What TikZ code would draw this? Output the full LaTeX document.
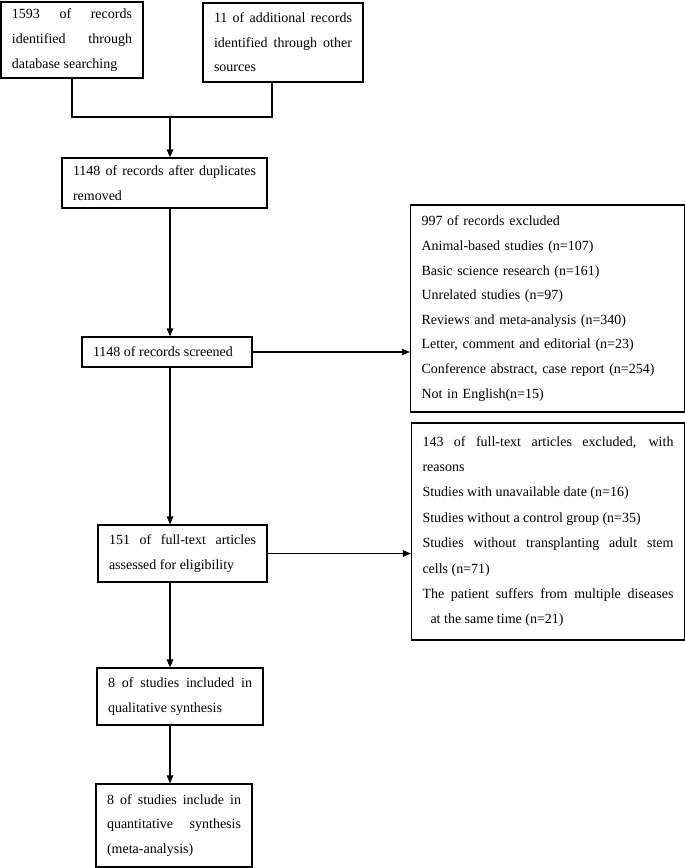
\documentclass[tikz,border=0pt]{standalone}
\usepackage{fontspec}
\setmainfont{Liberation Serif}
\usetikzlibrary{arrows.meta}

\begin{document}
\begin{tikzpicture}[x=1pt,y=-1pt,->,>={Triangle[length=8pt,width=6.5pt]},line width=1.2pt,
	box/.style={draw,inner xsep=11pt,inner ysep=0pt,align=justify,font=\fontsize{14}{24.6}\selectfont}]
		\useasboundingbox (0,0) rectangle (685,868);
		\node[box,text width=120pt,minimum height=76pt] (ident) at (72,40) {1593 of records\linebreak identified through\linebreak database searching};
		\node[box,text width=138pt,minimum height=79pt] (other) [node distance=211pt, right of=ident, yshift=-2.5pt] {11 of additional records\linebreak identified through other\linebreak sources};
		\node[box,text width=183pt,minimum height=50pt] (dup) [node distance=143pt, below of=ident, xshift=92.5pt] {1148 of records after duplicates\linebreak removed};
		\node[box,text width=148pt,minimum height=30pt] (screened) [node distance=169pt, below of=dup, xshift=2.5pt] {1148 of records screened};
		\node[box,text width=252pt,minimum height=207pt,align=left] (excl1) [node distance=380.5pt, right of=screened, yshift=43.5pt] {997 of records excluded\\ Animal-based studies (n=107)\\ Basic science research (n=161)\\ Unrelated studies (n=97)\\ Reviews and meta-analysis (n=340)\\ Letter, comment and editorial (n=23)\\ Conference abstract, case report (n=254)\\ Not in English(n=15)};
		\node[box,text width=147pt,minimum height=57pt] (full) [node distance=201.5pt, below of=screened, xshift=15.5pt] {151 of full-text articles\linebreak assessed for eligibility};
		\node[box,text width=251pt,minimum height=217pt,font=\fontsize{14}{25.4}\selectfont] (excl2) [node distance=365.5pt, right of=full, yshift=22pt] {143 of full-text articles excluded, with\linebreak reasons\\ Studies with unavailable date (n=16)\\ Studies without a control group (n=35)\\ Studies without transplanting adult stem\linebreak cells (n=71)\\ The patient suffers from multiple diseases\linebreak\hspace*{8pt}at the same time (n=21)};
		\node[box,text width=144pt,minimum height=57pt] (qual) [node distance=143pt, below of=full, xshift=-2.5pt] {8 of studies included in\linebreak qualitative synthesis};
		\node[box,text width=134pt,minimum height=83pt] (quant) [node distance=129pt, below of=qual, xshift=-6pt] {8 of studies include in\linebreak quantitative synthesis\linebreak (meta-analysis)};
		\coordinate (join) at (170,117);
		\draw[-] (ident.south) |- (join);
		\draw[-] ([xshift=-11pt]other.south) |- (join);
		\draw (join) -- (join |- dup.north);
		\draw (join |- dup.south) -- (join |- screened.north);
		\draw (screened.east) -- (screened.east -| excl1.west);
		\draw (join |- screened.south) -- (join |- full.north);
		\draw (full.east) -- (full.east -| excl2.west);
		\draw (join |- full.south) -- (join |- qual.north);
		\draw (join |- qual.south) -- (join |- quant.north);
\end{tikzpicture}
\end{document}
